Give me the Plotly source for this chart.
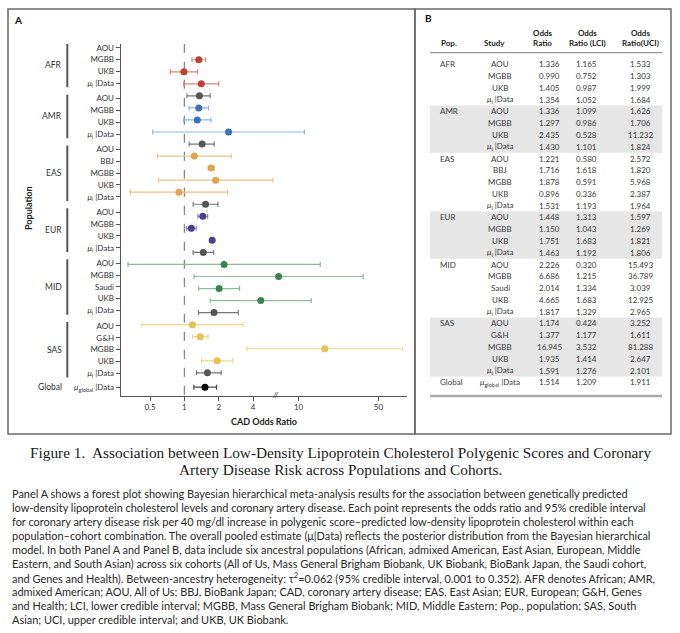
import plotly.graph_objects as go

W, H = 680, 633

# ---------------- data ----------------
pops = ["AFR", "AMR", "EAS", "EUR", "MID", "SAS", "Global"]
row_pop = (["AFR"] * 4 + ["AMR"] * 4 + ["EAS"] * 5 + ["EUR"] * 4 +
           ["MID"] * 5 + ["SAS"] * 5 + ["Global"])
row_study = ["AOU", "MGBB", "UKB", "MU",
             "AOU", "MGBB", "UKB", "MU",
             "AOU", "BBJ", "MGBB", "UKB", "MU",
             "AOU", "MGBB", "UKB", "MU",
             "AOU", "MGBB", "Saudi", "UKB", "MU",
             "AOU", "G&H", "MGBB", "UKB", "MU",
             "MUG"]
odds = [1.336, 0.990, 1.405, 1.354,
        1.336, 1.297, 2.435, 1.430,
        1.221, 1.716, 1.878, 0.896, 1.531,
        1.448, 1.150, 1.751, 1.463,
        2.226, 6.686, 2.014, 4.665, 1.817,
        1.174, 1.377, 16.945, 1.935, 1.591,
        1.514]
lci = [1.165, 0.752, 0.987, 1.052,
       1.099, 0.986, 0.528, 1.101,
       0.580, 1.618, 0.591, 0.336, 1.193,
       1.313, 1.043, 1.683, 1.192,
       0.320, 1.215, 1.334, 1.683, 1.329,
       0.424, 1.177, 3.532, 1.414, 1.276,
       1.209]
uci = [1.533, 1.303, 1.999, 1.684,
       1.626, 1.706, 11.232, 1.824,
       2.572, 1.820, 5.968, 2.387, 1.964,
       1.597, 1.269, 1.821, 1.806,
       15.493, 36.789, 3.039, 12.925, 2.965,
       3.252, 1.611, 81.288, 2.647, 2.101,
       1.911]
x_ticks = [0.5, 1, 2, 4, 10, 50]
x_ticktext = ["0.5", "1", "2", "4", "10", "50"]
shaded_pops = ["AMR", "EUR", "SAS"]

# ---------------- styles ----------------
pop_color = {"AFR": "#bf3f35", "AMR": "#3a74b4", "EAS": "#e3a24f",
             "EUR": "#4a3f8e", "MID": "#3a8452", "SAS": "#e8c14e"}
pop_err = {"AFR": "#d8857c", "AMR": "#8fb3da", "EAS": "#efc08a",
           "EUR": "#8b84c2", "MID": "#8dbb9c", "SAS": "#f0d68c"}
MU_C, MU_E = "#555555", "#777777"
G_C, G_E = "#000000", "#444444"
TXT = "#333333"
FONT = "Lato"

def px(x):
    return x / W

def py(y):
    return 1 - y / H

MU_LABEL = "<i>μ</i><sub>i</sub> |Data"
MUG_LABEL = "<i>μ</i><sub>global</sub> |Data"

def label_of(s):
    return MU_LABEL if s == "MU" else (MUG_LABEL if s == "MUG" else s)

n = len(odds)

# point positions (uniform rows) and label positions (with group gaps)
pt_pos = [1.0 + i for i in range(n - 1)] + [28.19]
lab_pos = []
cur = 0.0
prev = None
for p in row_pop:
    if p == "Global":
        lab_pos.append(28.19)
        continue
    if prev is None:
        cur = 0.0
    elif p == prev:
        cur += 0.98
    else:
        cur += 1.29
    lab_pos.append(cur)
    prev = p

fig = go.Figure()

# reference line at OR = 1
fig.add_trace(go.Scatter(x=[1, 1], y=[-0.33, 28.9], mode="lines",
                         line=dict(color="#888888", width=1.3, dash="dash"),
                         hoverinfo="skip", showlegend=False))

def add_points(idx, mc, ec):
    fig.add_trace(go.Scatter(
        x=[odds[i] for i in idx], y=[pt_pos[i] for i in idx], mode="markers",
        marker=dict(color=mc, size=7),
        error_x=dict(type="data", symmetric=False,
                     array=[uci[i] - odds[i] for i in idx],
                     arrayminus=[odds[i] - lci[i] for i in idx],
                     color=ec, thickness=1.2, width=2.5),
        showlegend=False))

for p in pops[:-1]:
    idx = [i for i in range(n) if row_pop[i] == p and row_study[i] != "MU"]
    add_points(idx, pop_color[p], pop_err[p])
add_points([i for i in range(n) if row_study[i] == "MU"], MU_C, MU_E)
add_points([i for i in range(n) if row_study[i] == "MUG"], G_C, G_E)

shapes = []
annotations = []

def note(text, x, y, size, color=TXT, xanchor="center", yref="paper", family=FONT, **kw):
    annotations.append(dict(text=text, x=x, y=y, xref="paper", yref=yref,
                            xanchor=xanchor, yanchor="middle", showarrow=False,
                            font=dict(size=size, color=color, family=family), **kw))

# panel borders
shapes.append(dict(type="rect", xref="paper", yref="paper", x0=px(8), x1=px(415),
                   y0=py(434), y1=py(9), line=dict(color="#6a6a6a", width=1.5)))
shapes.append(dict(type="rect", xref="paper", yref="paper", x0=px(415), x1=px(671),
                   y0=py(434), y1=py(9), line=dict(color="#6a6a6a", width=1.5)))

note("<b>A</b>", px(17.5), py(20), 10, "#111")
note("<b>B</b>", px(428), py(18.5), 10, "#111")

# group brackets and labels
for p in pops:
    idx = [i for i in range(n) if row_pop[i] == p]
    top, bot = lab_pos[idx[0]], lab_pos[idx[-1]]
    if p != "Global":
        shapes.append(dict(type="line", xref="paper", yref="y", x0=px(67.3), x1=px(67.3),
                           y0=top - 0.33, y1=bot + 0.35,
                           line=dict(color="#555555", width=2)))
    note(p, px(63.5), (top + bot) / 2, 8.5, xanchor="right", yref="y")

note("<b>Population</b>", px(28), py(208), 9, "#222", textangle=-90)
note("<b>CAD Odds Ratio</b>", px(263.5), py(421.5), 9, "#222")
note("//", px(275.7), py(394.5), 8, "#333")

# ---------------- table (panel B) ----------------
row_y0, row_dy = 64.3, 11.78
col_pop, col_study, col_or, col_lci, col_uci = 438, 500, 549, 586, 640.5

def ry(i):
    return row_y0 + row_dy * i

for p in shaded_pops:
    idx = [i for i in range(n) if row_pop[i] == p]
    shapes.append(dict(type="rect", xref="paper", yref="paper", layer="below",
                       x0=px(430), x1=px(662), y0=py(ry(idx[-1]) + 5.9),
                       y1=py(ry(idx[0]) - 5.9), fillcolor="#e6e6e6", line=dict(width=0)))

shapes.append(dict(type="line", xref="paper", yref="paper", x0=px(430), x1=px(662),
                   y0=py(52.7), y1=py(52.7), line=dict(color="#999999", width=1.3)))
shapes.append(dict(type="line", xref="paper", yref="paper", x0=px(430), x1=px(662),
                   y0=py(396), y1=py(396), line=dict(color="#aaaaaa", width=2.5)))

headers = [("Pop.", px(col_pop + 1), "left"), ("Study", px(494.5), "center"),
           ("Odds<br>Ratio", px(542.5), "center"), ("Odds<br>Ratio (LCI)", px(587), "center"),
           ("Odds<br>Ratio(UCI)", px(640), "center")]
for txt, hx, anc in headers:
    if "<br>" in txt:
        note("<b>%s</b>" % txt, hx, py(37.6), 8, "#222", xanchor=anc)
    else:
        note("<b>%s</b>" % txt, hx, py(42.6), 8, "#222", xanchor=anc)

CELL = "#3a3a3a"
for i in range(n):
    y = py(ry(i))
    if i == 0 or row_pop[i] != row_pop[i - 1]:
        note(row_pop[i], px(col_pop), y, 8, CELL, xanchor="left")
    note(label_of(row_study[i]), px(col_study), y, 8, CELL)
    for val, cx in ((odds[i], col_or), (lci[i], col_lci), (uci[i], col_uci)):
        note("%.3f" % val, px(cx), y, 8, CELL)

# ---------------- caption ----------------
title_lines = ["Figure 1.\u00a0 Association between Low-Density Lipoprotein Cholesterol Polygenic Scores and Coronary",
               "Artery Disease Risk across Populations and Cohorts."]
for k, t in enumerate(title_lines):
    note(t, 0.5, py(453 + 16.5 * k), 15.3, "#1a1a1a", family="Liberation Serif")

body_lines = [
    "Panel A shows a forest plot showing Bayesian hierarchical meta-analysis results for the association between genetically predicted",
    "low-density lipoprotein cholesterol levels and coronary artery disease. Each point represents the odds ratio and 95% credible interval",
    "for coronary artery disease risk per 40 mg/dl increase in polygenic score–predicted low-density lipoprotein cholesterol within each",
    "population–cohort combination. The overall pooled estimate (μ|Data) reflects the posterior distribution from the Bayesian hierarchical",
    "model. In both Panel A and Panel B, data include six ancestral populations (African, admixed American, East Asian, European, Middle",
    "Eastern, and South Asian) across six cohorts (All of Us, Mass General Brigham Biobank, UK Biobank, BioBank Japan, the Saudi cohort,",
    "and Genes and Health). Between-ancestry heterogeneity: τ<sup>2</sup>=0.062 (95% credible interval, 0.001 to 0.352). AFR denotes African; AMR,",
    "admixed American; AOU, All of Us; BBJ, BioBank Japan; CAD, coronary artery disease; EAS, East Asian; EUR, European; G&H, Genes",
    "and Health; LCI, lower credible interval; MGBB, Mass General Brigham Biobank; MID, Middle Eastern; Pop., population; SAS, South",
    "Asian; UCI, upper credible interval; and UKB, UK Biobank.",
]
for k, t in enumerate(body_lines):
    note(t, px(10), py(493 + 14 * k), 10.95, "#2a2a2a", xanchor="left")

fig.update_layout(
    width=W, height=H, margin=dict(l=0, r=0, t=0, b=0, autoexpand=False),
    paper_bgcolor="white", plot_bgcolor="white", showlegend=False,
    font=dict(family=FONT, color=TXT),
    xaxis=dict(type="log", range=[-0.558, 1.947], domain=[px(120.7), px(406.7)],
               tickvals=x_ticks, ticktext=x_ticktext, showgrid=False, zeroline=False,
               showline=True, linecolor="#555555", linewidth=1.2, ticks="outside",
               ticklen=4, tickcolor="#555555", tickfont=dict(size=8, color=TXT, family=FONT),
               anchor="y", automargin=False),
    yaxis=dict(range=[28.9, -0.332], domain=[py(395.7), py(43.7)],
               tickvals=lab_pos, ticktext=[label_of(s) for s in row_study],
               showgrid=False, zeroline=False, showline=True, linecolor="#555555",
               linewidth=1.2, ticks="outside", ticklen=4, tickcolor="#555555",
               tickfont=dict(size=8, color=TXT, family=FONT), anchor="x", automargin=False),
    shapes=shapes, annotations=annotations,
)

fig.write_html("out.html", config={"displayModeBar": False},
               post_script="document.body.style.margin='0';document.body.style.overflow='hidden';")
